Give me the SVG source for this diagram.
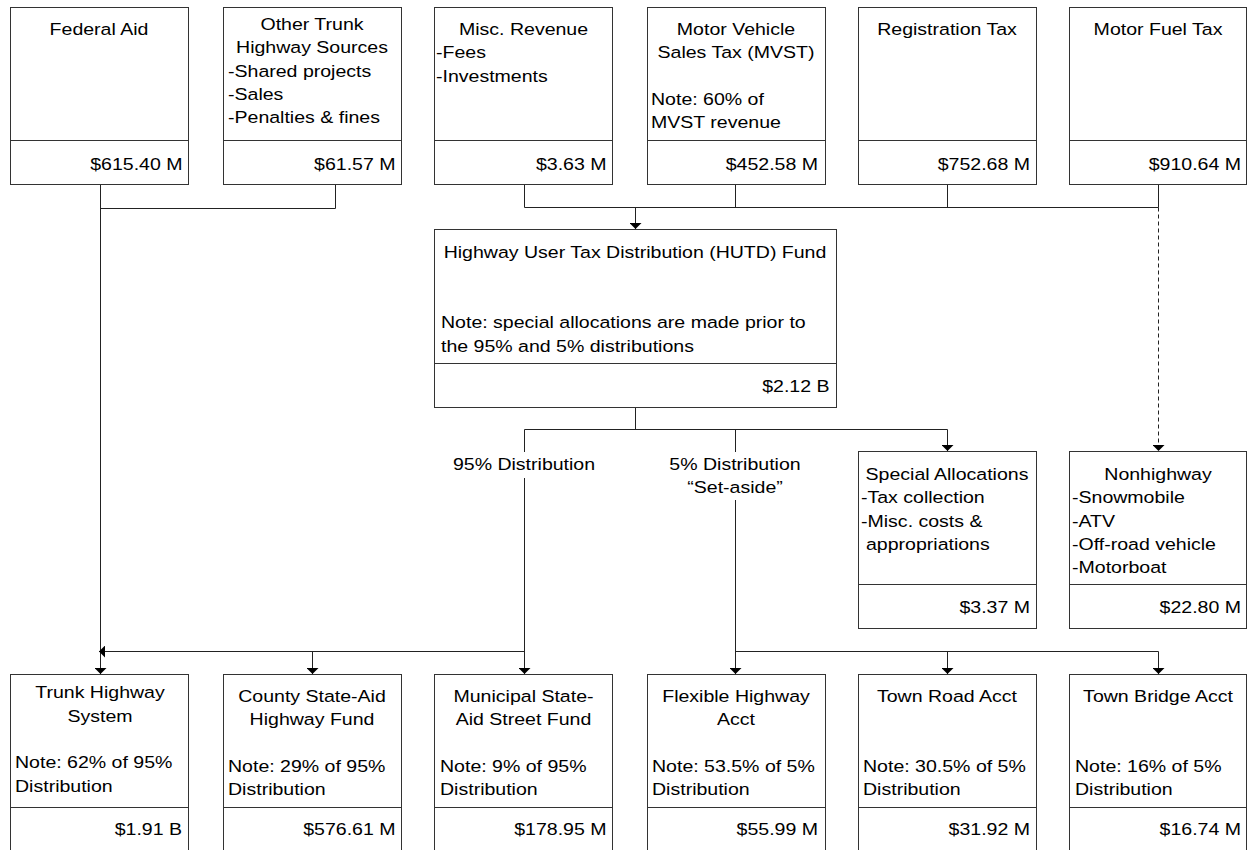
<svg xmlns="http://www.w3.org/2000/svg" width="1248" height="850" viewBox="0 0 1248 850">
<style>
.box{fill:#fff;stroke:#333;stroke-width:1}
.div{stroke:#333;stroke-width:1}
.c{fill:none;stroke:#222;stroke-width:1}
.d{fill:none;stroke:#222;stroke-width:1;stroke-dasharray:4 3}
text{font-family:"Liberation Sans",Arial,sans-serif;font-size:17px;fill:#000}
.m{text-anchor:middle}
.e{text-anchor:end}
</style>
<defs>
<marker id="ah" viewBox="0 0 6 12" refX="6" refY="6" markerWidth="6" markerHeight="12" markerUnits="userSpaceOnUse" orient="auto">
<path d="M0,0 L6,6 L0,12 z" fill="#000"/>
</marker>
</defs>
<rect width="1248" height="850" fill="#fff"/>

<g id="connectors">
<path class="c" d="M100.5,184 V674" marker-end="url(#ah)"/>
<path class="c" d="M335.5,184 V208.5 H100.5"/>
<path class="c" d="M524.5,184 V207.5 H1158.5 V184"/>
<path class="c" d="M735.5,184 V207.5"/>
<path class="c" d="M947.5,184 V207.5"/>
<path class="c" d="M635.5,207.5 V229" marker-end="url(#ah)"/>
<path class="d" d="M1158.5,207.5 V451" marker-end="url(#ah)"/>
<path class="c" d="M635.5,407 V429.5"/>
<path class="c" d="M524.5,452 V429.5 H947.5 V451" marker-end="url(#ah)"/>
<path class="c" d="M524.5,478 V674" marker-end="url(#ah)"/>
<path class="c" d="M524.5,651.5 H99" marker-end="url(#ah)"/>
<path class="c" d="M312.5,651.5 V674" marker-end="url(#ah)"/>
<path class="c" d="M735.5,429.5 V452"/>
<path class="c" d="M735.5,500 V674" marker-end="url(#ah)"/>
<path class="c" d="M735.5,651.5 H1158.5 V674" marker-end="url(#ah)"/>
<path class="c" d="M947.5,651.5 V674" marker-end="url(#ah)"/>
<text class="m" transform="translate(524,470) scale(1.15,1)">95% Distribution</text>
<text class="m" transform="translate(735,470) scale(1.15,1)">5% Distribution</text>
<text class="m" transform="translate(735,493) scale(1.15,1)">“Set-aside”</text>
</g>

<g id="federal-aid">
<rect class="box" x="10.5" y="7.5" width="178" height="177"/>
<line class="div" x1="10.5" y1="140.5" x2="188.5" y2="140.5"/>
<text class="m" transform="translate(99,35) scale(1.15,1)">Federal Aid</text>
<text class="e" transform="translate(182.5,170) scale(1.15,1)">$615.40 M</text>
</g>

<g id="other-trunk">
<rect class="box" x="223.5" y="7.5" width="178" height="177"/>
<line class="div" x1="223.5" y1="140.5" x2="401.5" y2="140.5"/>
<text class="m" transform="translate(312,30) scale(1.15,1)">Other Trunk</text>
<text class="m" transform="translate(312,53) scale(1.15,1)">Highway Sources</text>
<text transform="translate(228,77) scale(1.15,1)">-Shared projects</text>
<text transform="translate(228,100) scale(1.15,1)">-Sales</text>
<text transform="translate(228,123) scale(1.15,1)">-Penalties &amp; fines</text>
<text class="e" transform="translate(395.5,170) scale(1.15,1)">$61.57 M</text>
</g>

<g id="misc-revenue">
<rect class="box" x="434.5" y="7.5" width="178" height="177"/>
<line class="div" x1="434.5" y1="140.5" x2="612.5" y2="140.5"/>
<text class="m" transform="translate(523.5,35) scale(1.15,1)">Misc. Revenue</text>
<text transform="translate(436,58) scale(1.15,1)">-Fees</text>
<text transform="translate(436,82) scale(1.15,1)">-Investments</text>
<text class="e" transform="translate(606.5,170) scale(1.15,1)">$3.63 M</text>
</g>

<g id="mvst">
<rect class="box" x="647.5" y="7.5" width="178" height="177"/>
<line class="div" x1="647.5" y1="140.5" x2="825.5" y2="140.5"/>
<text class="m" transform="translate(736,35) scale(1.15,1)">Motor Vehicle</text>
<text class="m" transform="translate(736,58) scale(1.15,1)">Sales Tax (MVST)</text>
<text transform="translate(651,105) scale(1.15,1)">Note: 60% of</text>
<text transform="translate(651,128) scale(1.15,1)">MVST revenue</text>
<text class="e" transform="translate(818,170) scale(1.15,1)">$452.58 M</text>
</g>

<g id="registration-tax">
<rect class="box" x="858.5" y="7.5" width="178" height="177"/>
<line class="div" x1="858.5" y1="140.5" x2="1036.5" y2="140.5"/>
<text class="m" transform="translate(947,35) scale(1.15,1)">Registration Tax</text>
<text class="e" transform="translate(1030,170) scale(1.15,1)">$752.68 M</text>
</g>

<g id="motor-fuel-tax">
<rect class="box" x="1069.5" y="7.5" width="177" height="177"/>
<line class="div" x1="1069.5" y1="140.5" x2="1246.5" y2="140.5"/>
<text class="m" transform="translate(1158,35) scale(1.15,1)">Motor Fuel Tax</text>
<text class="e" transform="translate(1241,170) scale(1.15,1)">$910.64 M</text>
</g>

<g id="hutd-fund">
<rect class="box" x="434.5" y="229.5" width="402" height="178"/>
<line class="div" x1="434.5" y1="363.5" x2="836.5" y2="363.5"/>
<text class="m" transform="translate(635,258) scale(1.15,1)">Highway User Tax Distribution (HUTD) Fund</text>
<text transform="translate(441,328) scale(1.15,1)">Note: special allocations are made prior to</text>
<text transform="translate(441,352) scale(1.15,1)">the 95% and 5% distributions</text>
<text class="e" transform="translate(829.5,392) scale(1.15,1)">$2.12 B</text>
</g>

<g id="special-allocations">
<rect class="box" x="858.5" y="451.5" width="178" height="177"/>
<line class="div" x1="858.5" y1="584.5" x2="1036.5" y2="584.5"/>
<text class="m" transform="translate(947,480) scale(1.15,1)">Special Allocations</text>
<text transform="translate(861,503) scale(1.15,1)">-Tax collection</text>
<text transform="translate(861,527) scale(1.15,1)">-Misc. costs &amp;</text>
<text transform="translate(866,550) scale(1.15,1)">appropriations</text>
<text class="e" transform="translate(1030,613) scale(1.15,1)">$3.37 M</text>
</g>

<g id="nonhighway">
<rect class="box" x="1069.5" y="451.5" width="177" height="177"/>
<line class="div" x1="1069.5" y1="584.5" x2="1246.5" y2="584.5"/>
<text class="m" transform="translate(1158,480) scale(1.15,1)">Nonhighway</text>
<text transform="translate(1072,503) scale(1.15,1)">-Snowmobile</text>
<text transform="translate(1072,527) scale(1.15,1)">-ATV</text>
<text transform="translate(1072,550) scale(1.15,1)">-Off-road vehicle</text>
<text transform="translate(1072,573) scale(1.15,1)">-Motorboat</text>
<text class="e" transform="translate(1241,613) scale(1.15,1)">$22.80 M</text>
</g>

<g id="trunk-highway-system">
<rect class="box" x="10.5" y="674.5" width="178" height="177"/>
<line class="div" x1="10.5" y1="807.5" x2="188.5" y2="807.5"/>
<text class="m" transform="translate(100,698) scale(1.15,1)">Trunk Highway</text>
<text class="m" transform="translate(100,722) scale(1.15,1)">System</text>
<text transform="translate(15,768) scale(1.15,1)">Note: 62% of 95%</text>
<text transform="translate(15,792) scale(1.15,1)">Distribution</text>
<text class="e" transform="translate(182,835) scale(1.15,1)">$1.91 B</text>
</g>

<g id="county-state-aid">
<rect class="box" x="223.5" y="674.5" width="178" height="177"/>
<line class="div" x1="223.5" y1="807.5" x2="401.5" y2="807.5"/>
<text class="m" transform="translate(312,702) scale(1.15,1)">County State-Aid</text>
<text class="m" transform="translate(312,725) scale(1.15,1)">Highway Fund</text>
<text transform="translate(228,772) scale(1.15,1)">Note: 29% of 95%</text>
<text transform="translate(228,795) scale(1.15,1)">Distribution</text>
<text class="e" transform="translate(395.5,835) scale(1.15,1)">$576.61 M</text>
</g>

<g id="municipal-state-aid">
<rect class="box" x="434.5" y="674.5" width="178" height="177"/>
<line class="div" x1="434.5" y1="807.5" x2="612.5" y2="807.5"/>
<text class="m" transform="translate(523.5,702) scale(1.15,1)">Municipal State-</text>
<text class="m" transform="translate(523.5,725) scale(1.15,1)">Aid Street Fund</text>
<text transform="translate(440,772) scale(1.15,1)">Note: 9% of 95%</text>
<text transform="translate(440,795) scale(1.15,1)">Distribution</text>
<text class="e" transform="translate(606.5,835) scale(1.15,1)">$178.95 M</text>
</g>

<g id="flexible-highway">
<rect class="box" x="647.5" y="674.5" width="178" height="177"/>
<line class="div" x1="647.5" y1="807.5" x2="825.5" y2="807.5"/>
<text class="m" transform="translate(736,702) scale(1.15,1)">Flexible Highway</text>
<text class="m" transform="translate(736,725) scale(1.15,1)">Acct</text>
<text transform="translate(652,772) scale(1.15,1)">Note: 53.5% of 5%</text>
<text transform="translate(652,795) scale(1.15,1)">Distribution</text>
<text class="e" transform="translate(818,835) scale(1.15,1)">$55.99 M</text>
</g>

<g id="town-road">
<rect class="box" x="858.5" y="674.5" width="178" height="177"/>
<line class="div" x1="858.5" y1="807.5" x2="1036.5" y2="807.5"/>
<text class="m" transform="translate(947,702) scale(1.15,1)">Town Road Acct</text>
<text transform="translate(863,772) scale(1.15,1)">Note: 30.5% of 5%</text>
<text transform="translate(863,795) scale(1.15,1)">Distribution</text>
<text class="e" transform="translate(1030,835) scale(1.15,1)">$31.92 M</text>
</g>

<g id="town-bridge">
<rect class="box" x="1069.5" y="674.5" width="177" height="177"/>
<line class="div" x1="1069.5" y1="807.5" x2="1246.5" y2="807.5"/>
<text class="m" transform="translate(1158,702) scale(1.15,1)">Town Bridge Acct</text>
<text transform="translate(1075,772) scale(1.15,1)">Note: 16% of 5%</text>
<text transform="translate(1075,795) scale(1.15,1)">Distribution</text>
<text class="e" transform="translate(1241,835) scale(1.15,1)">$16.74 M</text>
</g>
</svg>
